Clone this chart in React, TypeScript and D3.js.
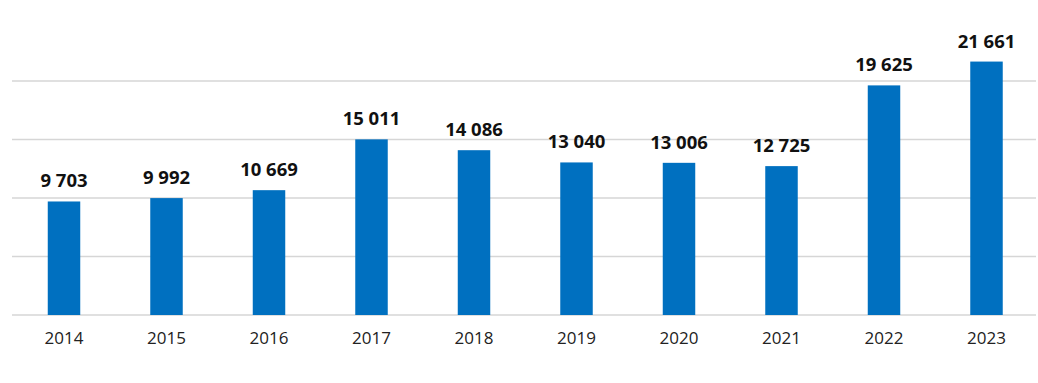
import React from "react";
import * as d3 from "d3";

const years: string[] = ["2014", "2015", "2016", "2017", "2018", "2019", "2020", "2021", "2022", "2023"];
const values: number[] = [9703, 9992, 10669, 15011, 14086, 13040, 13006, 12725, 19625, 21661];
const gridTicks: number[] = [0, 5000, 10000, 15000, 20000];

const W = 1038;
const H = 383;

export default function App() {
  const x = d3.scaleBand<string>().domain(years).range([12.75, 1037.75]).paddingInner(0.683).paddingOuter(0.3415);
  const y = d3.scaleLinear().domain([0, 20000]).range([315, 81]);
  const fmt = d3.formatLocale({ decimal: ",", thousands: " ", grouping: [3], currency: ["", ""] }).format(",d");

  return (
    <svg width={W} height={H} style={{ position: "absolute", left: 0, top: 0, background: "#fff" }}>
      <rect x={0} y={0} width={W} height={H} fill="#fff" />
      {gridTicks.map((t) => (
        <line key={t} x1={12} x2={1036} y1={y(t)} y2={y(t)} stroke="#d6d6d6" strokeWidth={1.5} />
      ))}
      {years.map((yr, i) => {
        const v = values[i];
        const bx = x(yr) as number;
        const bw = x.bandwidth();
        return (
          <g key={yr}>
            <rect x={bx} y={y(v)} width={bw} height={y(0) - y(v)} fill="#0070C0" />
            <text
              x={bx + bw / 2}
              y={y(v) - 14}
              textAnchor="middle"
              fontFamily="'Open Sans', sans-serif"
              fontWeight={700}
              fontSize={18.5}
              fill="#111"
            >
              {fmt(v)}
            </text>
            <text
              x={bx + bw / 2}
              y={344}
              textAnchor="middle"
              fontFamily="'Open Sans', sans-serif"
              fontSize={17}
              fill="#222"
            >
              {yr}
            </text>
          </g>
        );
      })}
    </svg>
  );
}
